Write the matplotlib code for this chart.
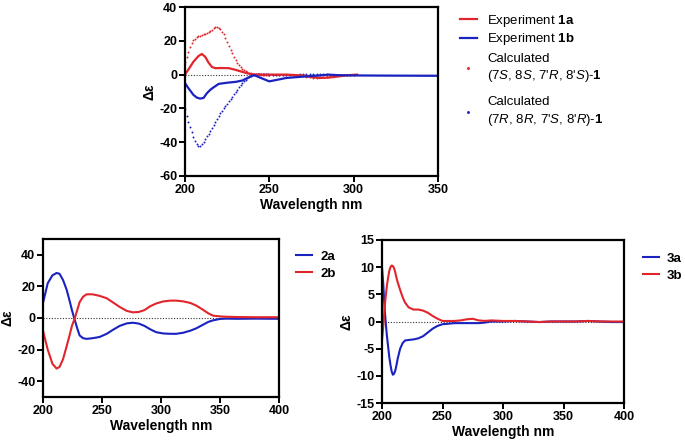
import numpy as np
import matplotlib
matplotlib.use('Agg')
import matplotlib.pyplot as plt

plt.rcParams['font.family'] = ['Liberation Sans', 'DejaVu Sans']
plt.rcParams['mathtext.fontset'] = 'custom'
plt.rcParams['mathtext.rm'] = 'Liberation Sans'
plt.rcParams['mathtext.it'] = 'Liberation Sans:italic'
plt.rcParams['mathtext.bf'] = 'Liberation Sans:bold'
plt.rcParams['axes.unicode_minus'] = False

RED = '#e0262c'
BLUE = '#1a22c0'

# ── Panel 1: compound 1 ─────────────────────────────────────────────────
wl_1a = [200, 202, 205, 208, 210, 212, 214, 216, 218, 222, 226, 230, 234, 238, 242,
         250, 260, 270, 275, 280, 285, 290, 295, 302]
exp_1a = [0, 3, 7.6, 11, 12.2, 10.5, 7, 4.5, 3.8, 3.9, 3.8, 2.8, 1.6, 0.5, 0,
          0, 0, -0.5, -1.5, -2, -1.8, -1.2, -0.5, 0]
wl_1b = [200, 202, 205, 207, 209, 211, 213, 215, 217, 220, 225, 230, 234, 238, 241,
         245, 250, 255, 260, 270, 280, 285, 290, 300, 320, 350]
exp_1b = [-5, -8, -12, -13.6, -14.2, -13.8, -11, -9, -7.5, -5.5, -4.8, -4.3, -3.5, -1.5, -0.3,
          -2, -4, -3, -2, -1.2, -0.5, 0, -0.3, -0.5, -0.6, -0.7]
# calculated spectra: 1 nm steps to 250 nm, then 2 nm steps to 300 nm
wl_calc = list(range(200, 251)) + list(range(252, 301, 2))
calc_s = [7.6, 10.5, 13.5, 16.5, 18.8, 20.3, 21.3, 22, 22.6, 23.1,
          23.5, 23.9, 24.3, 24.8, 25.3, 25.9, 26.6, 27.3, 27.9, 28,
          27.6, 26.8, 25.5, 23.8, 21.8, 19.5, 17.2, 14.8, 12.5, 10.4,
          8.5, 6.9, 5.5, 4.4, 3.4, 2.6, 2, 1.5, 1.1, 0.8,
          0.6, 0.4, 0.3, 0.2, 0.1, 0, 0, 0, 0, 0, 0,
          0, 0, 0, 0, 0, 0, 0, 0, -0.3, -0.8, -1.2, -1.6, -1.8,
          -1.8, -1.6, -1.3, -1.0, -0.8, -0.6, -0.4, -0.2, -0.1, 0, 0, 0]
calc_r = [-20.6, -24.5, -28, -31.2, -34, -36.7, -39, -40.8, -42, -42,
          -41.2, -39.8, -38.2, -36.6, -35, -33.2, -31.5, -29.7, -27.9, -26,
          -24.4, -22.8, -21.3, -19.8, -18.5, -17.2, -15.8, -14.5, -13, -11.6,
          -10.2, -8.9, -7.6, -6.3, -5.1, -4, -3, -2.2, -1.5, -0.9,
          -0.4, 0, 0.2, 0.3, 0.3, 0.3, 0.2, 0.2, 0.1, 0.1, 0,
          0, 0, 0, 0, 0, 0, 0, 0, 0.2, 0.3, 0.4, 0.5, 0.5,
          0.4, 0.3, 0.2, 0.1, 0, 0, 0, 0, 0, 0, 0, 0]

# ── Panel 2: compound 2 ─────────────────────────────────────────────────
wl_2 = [200, 204, 208, 211.5, 214, 217, 220, 222.5, 224.5, 227, 229, 231, 234, 237, 242, 248,
        254, 259, 265, 271, 276, 281, 286, 291, 296, 302, 308, 313, 319, 325, 330, 335,
        340, 344, 350, 355, 365, 380, 400]
cd_2a = [9.5, 22, 27, 28.5, 28, 24, 18, 11, 5, -1.5, -6.5, -11, -12.8, -13.2, -12.8, -12,
         -10, -7.6, -5, -3.4, -3, -3.5, -5, -7.2, -9, -9.8, -10, -10, -9.3, -8, -6.5, -4.5,
         -2.5, -1.5, -0.6, -0.4, -0.5, -0.4, -0.5]
cd_2b = [-8, -20, -29, -32, -31, -26, -18, -11, -5, 0, 5, 10, 13.5, 15, 15, 14,
         12.5, 10, 7, 4.5, 3.6, 3.8, 5, 7.5, 9.2, 10.5, 11, 11, 10.5, 9.5, 7.8, 5.5,
         3, 1.5, 1, 0.8, 0.6, 0.5, 0.5]

# ── Panel 3: compound 3 ─────────────────────────────────────────────────
wl_3 = [200, 201, 202, 203, 204, 205, 206, 207, 208, 209, 210, 211, 212, 213, 215, 217, 219,
        222, 226, 230, 234, 238, 242, 246, 250, 255, 260, 265, 270, 275, 280, 285, 290,
        300, 310, 320, 330, 340, 350, 360, 370, 380, 390, 400]
cd_3a = [10, 7, 3, 0, -2.5, -4.5, -6.5, -8, -9.2, -9.8, -9.6, -9, -8, -6.8, -5, -4, -3.5,
         -3.4, -3.3, -3.1, -2.7, -2, -1.3, -0.8, -0.5, -0.4, -0.3, -0.3, -0.3, -0.3, -0.3, -0.2, 0,
         0, 0.1, 0, -0.1, 0, 0, 0, 0.1, 0, -0.1, -0.1]
cd_3b = [-3.5, -1, 2, 4.5, 6.5, 8, 9.3, 10, 10.3, 10.2, 9.8, 9, 8, 7.2, 5.8, 4.5, 3.5,
         2.6, 2.2, 2.2, 2, 1.6, 1, 0.5, 0.1, 0.1, 0.1, 0.2, 0.4, 0.5, 0.2, 0.1, 0.2,
         0.1, 0.1, 0, -0.1, 0, 0, 0, 0.1, 0, 0, 0]

W, H = 685, 443
fig = plt.figure(figsize=(W / 100, H / 100), dpi=100)


def px_axes(x0, y0, x1, y1):
    return fig.add_axes([x0 / W, 1 - y1 / H, (x1 - x0) / W, (y1 - y0) / H])


def style(ax, xlim, ylim, xticks, yticks):
    ax.set_xlim(*xlim)
    ax.set_ylim(*ylim)
    ax.set_xticks(xticks)
    ax.set_yticks(yticks)
    ax.axhline(0, color='#333333', lw=0.8, ls=(0, (1, 1.5)), zorder=1)
    for s in ax.spines.values():
        s.set_linewidth(1.6)
    ax.tick_params(direction='out', length=4, width=1.4, labelsize=9, pad=1.5)
    for lab in ax.get_xticklabels() + ax.get_yticklabels():
        lab.set_fontweight('bold')
    ax.set_xlabel('Wavelength nm', fontsize=10, fontweight='bold', labelpad=2)
    ax.set_ylabel('Δε', fontsize=10, fontweight='bold', labelpad=2)


# top panel
ax1 = px_axes(185, 7, 438, 176)
p_cs, = ax1.plot(wl_calc, calc_s, ls='none', marker='o', ms=1.4, color=RED, mew=0)
p_cr, = ax1.plot(wl_calc, calc_r, ls='none', marker='o', ms=1.4, color=BLUE, mew=0)
p_1a, = ax1.plot(wl_1a, exp_1a, color=RED, lw=1.6)
p_1b, = ax1.plot(wl_1b, exp_1b, color=BLUE, lw=1.6)
style(ax1, (200, 350), (-60, 40), [200, 250, 300, 350], [-60, -40, -20, 0, 20, 40])

leg_exp = ax1.legend([p_1a, p_1b], ['Experiment $\\mathbf{1a}$', 'Experiment $\\mathbf{1b}$'],
                     loc='upper left', bbox_to_anchor=(453 / W, 1 - 6 / H),
                     bbox_transform=fig.transFigure, frameon=False, fontsize=9.5,
                     handlelength=1.3, handletextpad=0.8, labelspacing=0.2, borderpad=0)
ax1.add_artist(leg_exp)
leg_calc = ax1.legend(
    [p_cs, p_cr],
    ['Calculated\n(7$\\mathit{S}$, 8$\\mathit{S}$, 7\'$\\mathit{R}$, 8\'$\\mathit{S}$)-$\\mathbf{1}$',
     'Calculated\n(7$\\mathit{R}$, 8$\\mathit{R}$, 7\'$\\mathit{S}$, 8\'$\\mathit{R}$)-$\\mathbf{1}$'],
    loc='upper left', bbox_to_anchor=(453 / W, 1 - 46 / H),
    bbox_transform=fig.transFigure, frameon=False, fontsize=9.5,
    handlelength=1.3, handletextpad=0.8, labelspacing=0.95, borderpad=0, markerscale=1.5)
for t in leg_calc.get_texts():
    t.set_linespacing(1.3)

# bottom left panel
ax2 = px_axes(43, 239, 279, 397)
ax2.plot(wl_2, cd_2a, color=BLUE, lw=1.5, label='2a')
ax2.plot(wl_2, cd_2b, color=RED, lw=1.5, label='2b')
style(ax2, (200, 400), (-50, 50), [200, 250, 300, 350, 400], [-40, -20, 0, 20, 40])
ax2.legend(loc='upper left', bbox_to_anchor=(289 / W, 1 - 244 / H),
           bbox_transform=fig.transFigure, frameon=False,
           prop={'size': 9.5, 'weight': 'bold'}, handlelength=1.25,
           handletextpad=0.6, labelspacing=0.35, borderpad=0)

# bottom right panel
ax3 = px_axes(382, 240, 624, 403)
ax3.plot(wl_3, cd_3a, color=BLUE, lw=1.5, label='3a')
ax3.plot(wl_3, cd_3b, color=RED, lw=1.5, label='3b')
style(ax3, (200, 400), (-15, 15), [200, 250, 300, 350, 400], [-15, -10, -5, 0, 5, 10, 15])
ax3.legend(loc='upper left', bbox_to_anchor=(636 / W, 1 - 246 / H),
           bbox_transform=fig.transFigure, frameon=False,
           prop={'size': 9.5, 'weight': 'bold'}, handlelength=1.25,
           handletextpad=0.6, labelspacing=0.35, borderpad=0)

fig.savefig('out.png', dpi=100)
